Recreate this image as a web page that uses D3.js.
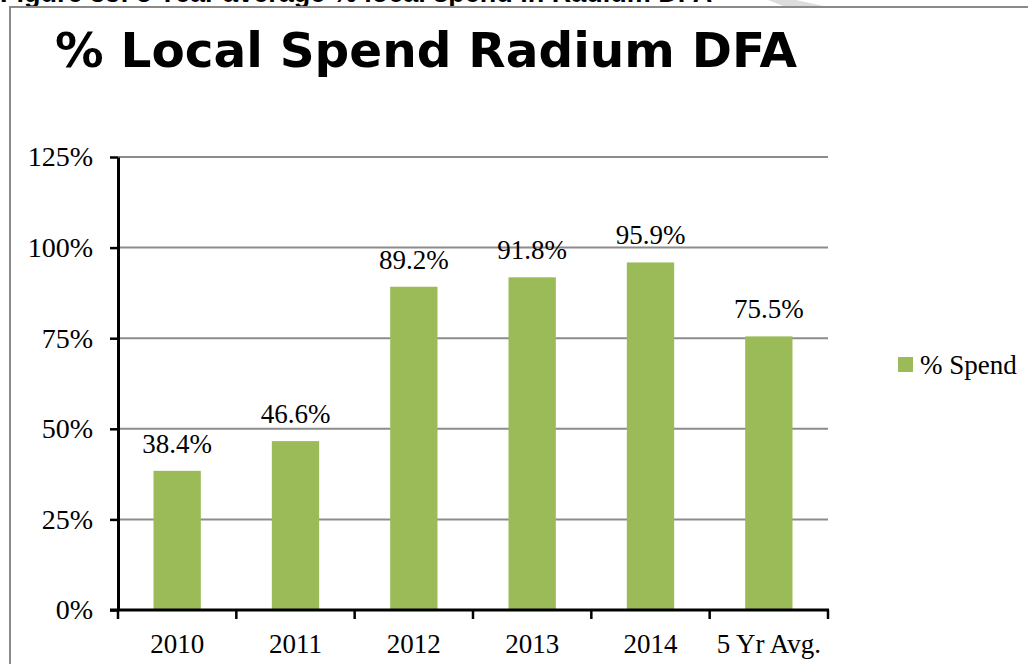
<!DOCTYPE html>
<html>
<head>
<meta charset="utf-8">
<script src="https://cdn.jsdelivr.net/npm/d3@7"></script>
<style>
  html, body { margin: 0; padding: 0; background: #fff; }
  svg { display: block; }
</style>
</head>
<body>
<svg id="chart" width="1028" height="664"></svg>
<script>
// Chart data
const categories = ["2010", "2011", "2012", "2013", "2014", "5 Yr Avg."];
const spendPct = [38.4, 46.6, 89.2, 91.8, 95.9, 75.5];
const yTicks = [0, 25, 50, 75, 100, 125];
const seriesName = "% Spend";
const chartTitle = "% Local Spend Radium DFA";
const captionText = "Figure 33: 5 Year average % local spend in Radium DFA";

const svg = d3.select("#chart");
const serif = "'Liberation Serif', 'Times New Roman', serif";
const barColor = "#9bbb59";

// Caption above the frame, running off the top edge of the page
svg.append("text")
  .attr("x", 0).attr("y", 2)
  .attr("font-family", "'Liberation Sans', Arial, sans-serif")
  .attr("font-weight", "bold")
  .attr("font-size", 27)
  .attr("fill", "#000")
  .text(captionText);

// Light diagonal band at the top edge
svg.append("polygon")
  .attr("points", "768,0 796,0 828,7 786,7")
  .attr("fill", "#dcdcdc");

// Chart frame
svg.append("path")
  .attr("d", "M10,664 L10,7 L1028,7")
  .attr("fill", "none")
  .attr("stroke", "#8a8a8a")
  .attr("stroke-width", 2);

// Title
svg.append("text")
  .attr("x", 55).attr("y", 67)
  .attr("font-family", "'DejaVu Sans', Verdana, sans-serif")
  .attr("font-weight", "bold")
  .attr("font-size", 48.5)
  .attr("fill", "#000")
  .text(chartTitle);

// Plot area
const plot = { left: 118, right: 828, top: 157, bottom: 610 };

const x = d3.scaleBand()
  .domain(categories)
  .range([plot.left, plot.right])
  .paddingInner(0.6)
  .paddingOuter(0.3);

const xOuter = d3.scaleBand()
  .domain(categories)
  .range([plot.left, plot.right]);

const y = d3.scaleLinear()
  .domain([0, 125])
  .range([plot.bottom, plot.top]);

// Gridlines
svg.append("g")
  .selectAll("line")
  .data(yTicks.filter(t => t > 0))
  .join("line")
  .attr("x1", plot.left).attr("x2", plot.right)
  .attr("y1", d => y(d)).attr("y2", d => y(d))
  .attr("stroke", "#8c8c8c")
  .attr("stroke-width", 2);

// Bars
svg.append("g")
  .selectAll("rect")
  .data(spendPct)
  .join("rect")
  .attr("x", (d, i) => x(categories[i]))
  .attr("width", x.bandwidth())
  .attr("y", d => y(d))
  .attr("height", d => y(0) - y(d))
  .attr("fill", barColor);

// Value labels
svg.append("g")
  .selectAll("text")
  .data(spendPct)
  .join("text")
  .attr("x", (d, i) => x(categories[i]) + x.bandwidth() / 2)
  .attr("y", d => y(d) - 18)
  .attr("text-anchor", "middle")
  .attr("font-family", serif)
  .attr("font-size", 27)
  .attr("fill", "#000")
  .text(d => d.toFixed(1) + "%");

// Y axis
const yAxis = d3.axisLeft(y)
  .tickValues(yTicks)
  .tickFormat(d => d + "%")
  .tickSize(8)
  .tickSizeOuter(0)
  .tickPadding(17);

const gy = svg.append("g")
  .attr("transform", `translate(${plot.left},0)`)
  .call(yAxis);
gy.select(".domain").attr("stroke", "#000").attr("stroke-width", 3);
gy.selectAll(".tick line").attr("stroke", "#000").attr("stroke-width", 2.5);
gy.selectAll(".tick text")
  .attr("font-family", serif)
  .attr("font-size", 28)
  .attr("fill", "#000");

// X axis: ticks at category boundaries
const gx = svg.append("g")
  .attr("transform", `translate(0,${plot.bottom})`);
gx.append("line")
  .attr("x1", plot.left - 8).attr("x2", plot.right + 1)
  .attr("y1", 0).attr("y2", 0)
  .attr("stroke", "#000").attr("stroke-width", 3);
const boundaries = categories.map(c => xOuter(c)).concat([plot.right]);
gx.selectAll(".bt")
  .data(boundaries)
  .join("line")
  .attr("class", "bt")
  .attr("x1", d => d).attr("x2", d => d)
  .attr("y1", 0).attr("y2", 9)
  .attr("stroke", "#000").attr("stroke-width", 2.5);
gx.selectAll(".cl")
  .data(categories)
  .join("text")
  .attr("class", "cl")
  .attr("x", d => xOuter(d) + xOuter.bandwidth() / 2)
  .attr("y", 43)
  .attr("text-anchor", "middle")
  .attr("font-family", serif)
  .attr("font-size", 27)
  .attr("fill", "#000")
  .text(d => d);

// Legend
const legend = svg.append("g").attr("transform", "translate(898,357)");
legend.append("rect")
  .attr("width", 15).attr("height", 15)
  .attr("fill", barColor);
legend.append("text")
  .attr("x", 22).attr("y", 17)
  .attr("font-family", serif)
  .attr("font-size", 27)
  .attr("fill", "#000")
  .text(seriesName);
</script>
</body>
</html>
